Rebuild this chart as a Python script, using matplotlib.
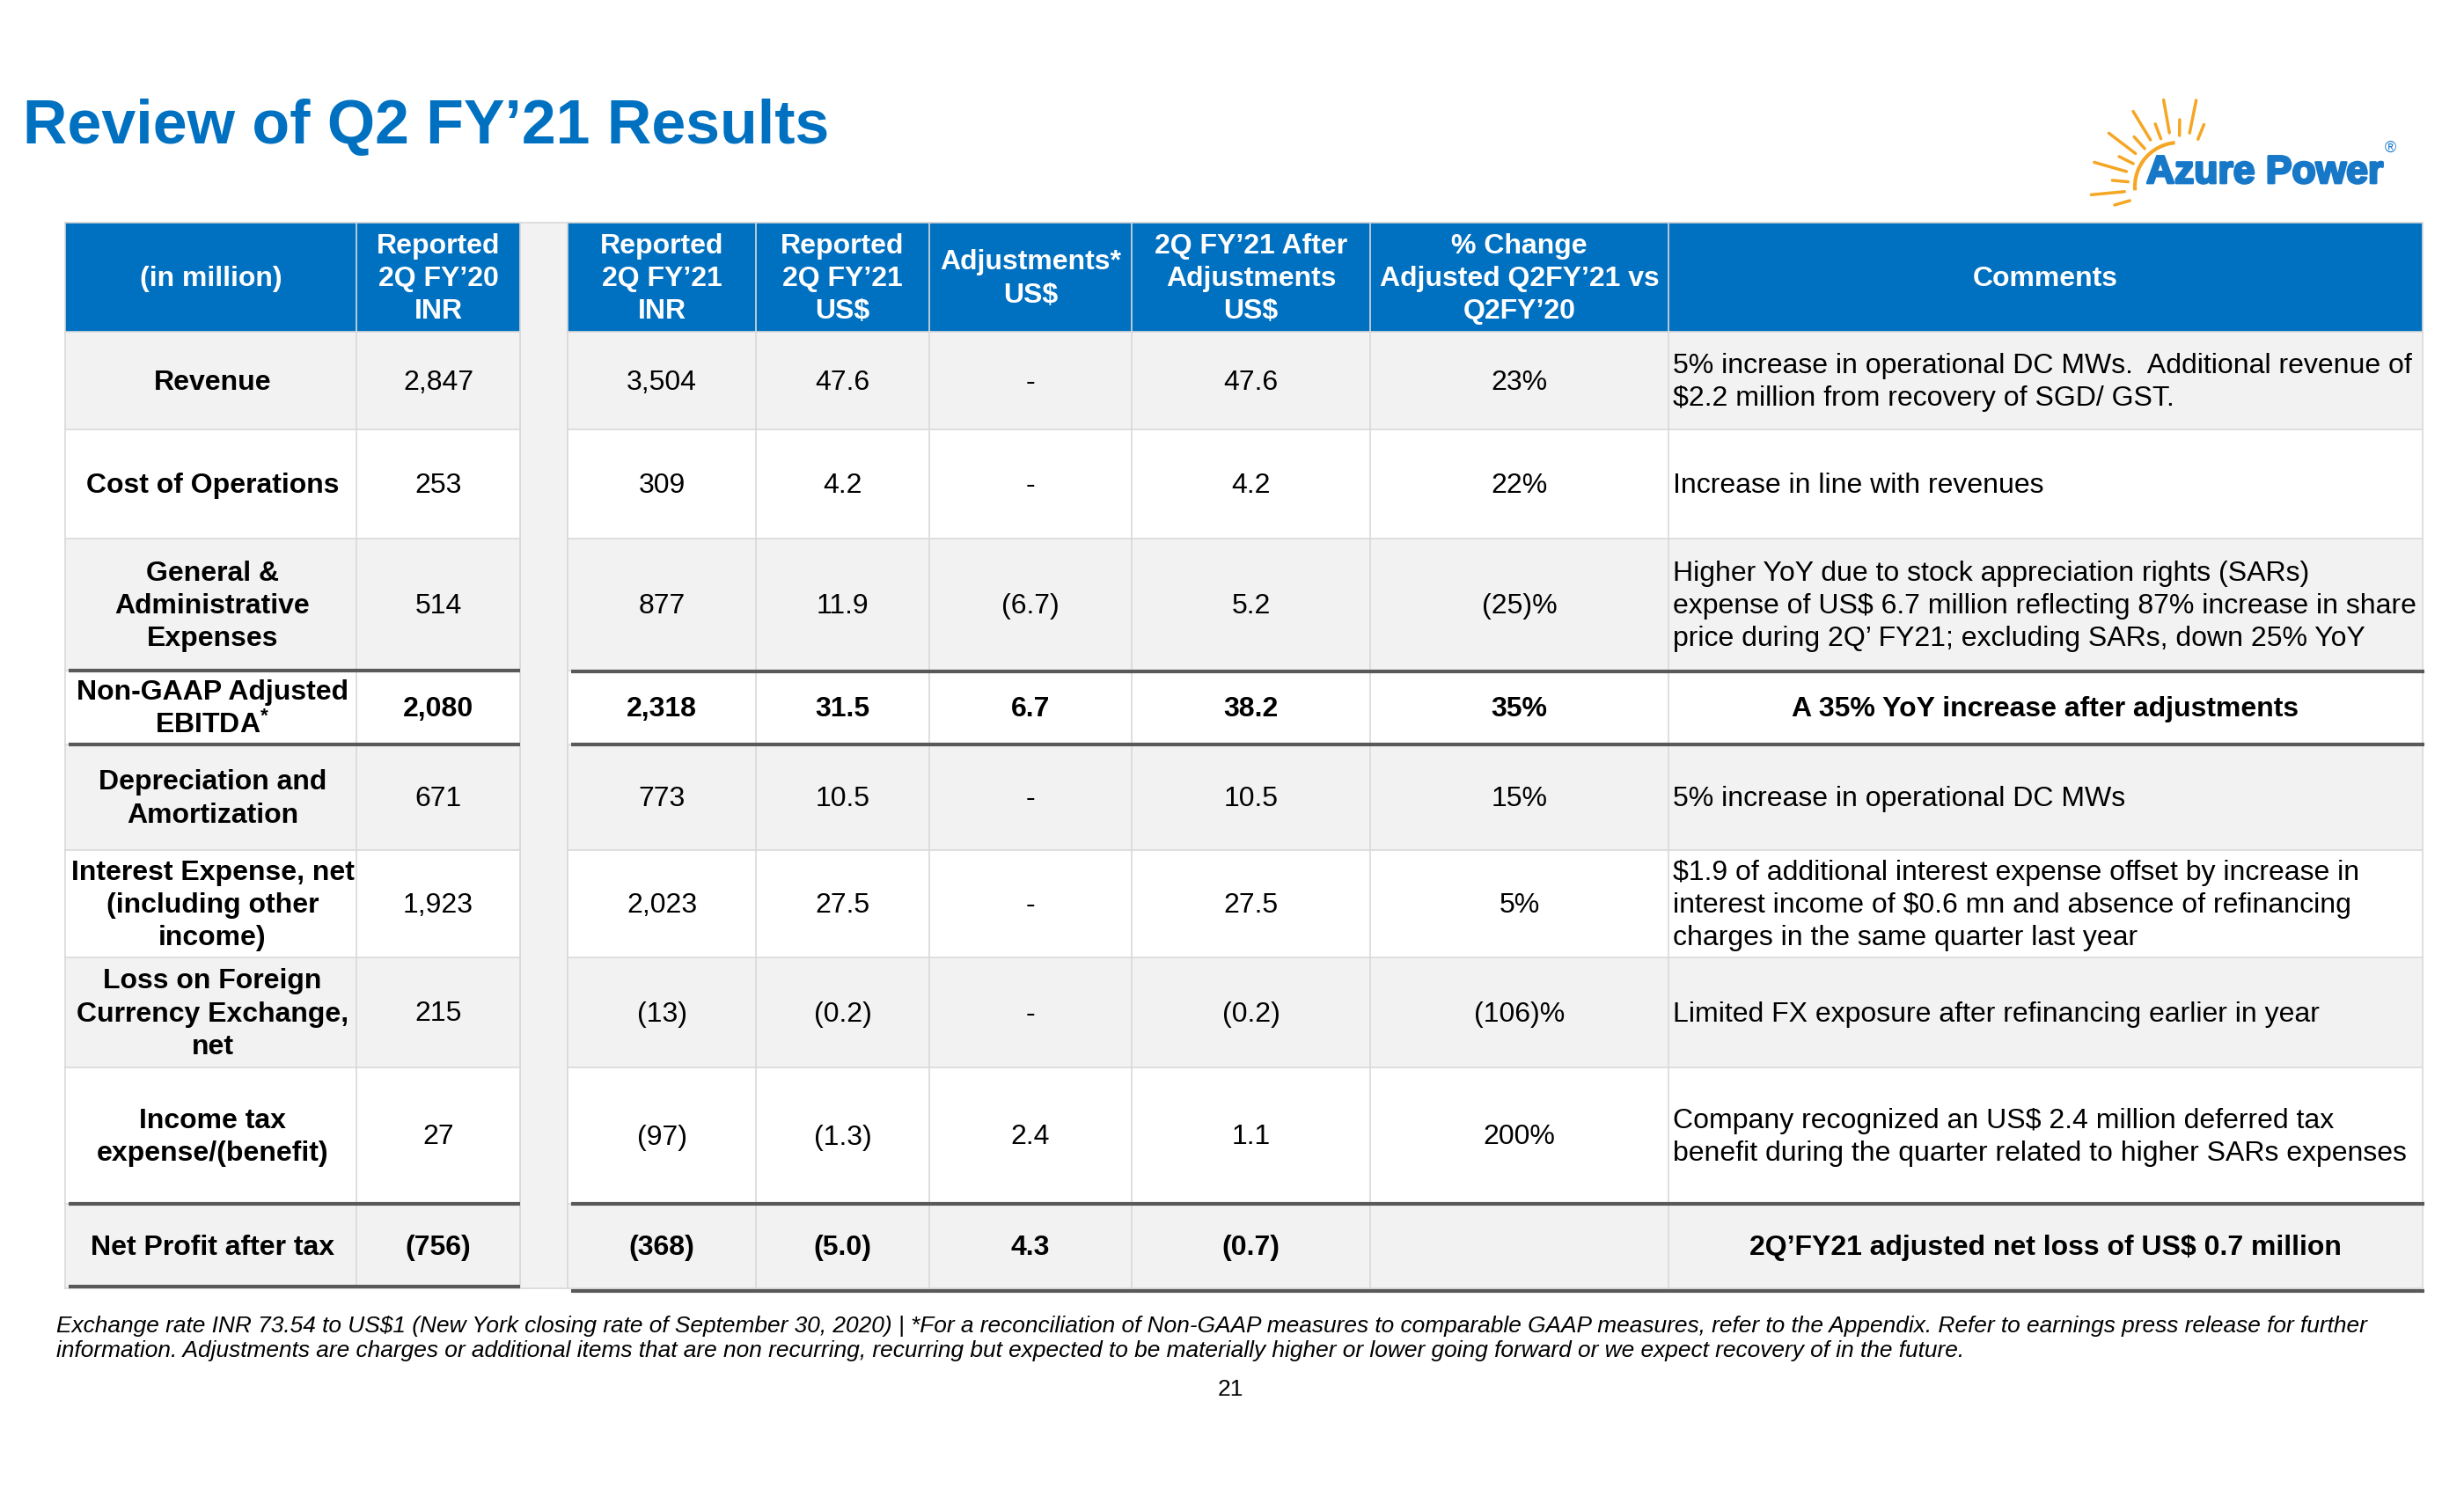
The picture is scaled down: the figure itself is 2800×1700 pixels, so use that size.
import numpy as np
import matplotlib.pyplot as plt
from matplotlib.patches import Rectangle, Arc
import matplotlib.patheffects as pe

plt.rcParams['font.family'] = ['Liberation Sans', 'DejaVu Sans']
plt.rcParams['mathtext.fontset'] = 'custom'
plt.rcParams['mathtext.rm'] = 'Liberation Sans:bold'
plt.rcParams['mathtext.it'] = 'Liberation Sans:bold'

# ---- data ----
headers = ["(in million)", "Reported\n2Q FY’20\nINR", "Reported\n2Q FY’21\nINR",
           "Reported\n2Q FY’21\nUS$", "Adjustments*\nUS$", "2Q FY’21 After\nAdjustments\nUS$",
           "% Change\nAdjusted Q2FY’21 vs\nQ2FY’20", "Comments"]
row_labels = ["Revenue", "Cost of Operations", "General &\nAdministrative\nExpenses",
              "Non-GAAP Adjusted\nEBITDA$^{*}$", "Depreciation and\nAmortization",
              "Interest Expense, net\n(including other\nincome)",
              "Loss on Foreign\nCurrency Exchange,\nnet", "Income tax\nexpense/(benefit)",
              "Net Profit after tax"]
fy20_inr = ["2,847", "253", "514", "2,080", "671", "1,923", "215", "27", "(756)"]
fy21_inr = ["3,504", "309", "877", "2,318", "773", "2,023", "(13)", "(97)", "(368)"]
fy21_usd = ["47.6", "4.2", "11.9", "31.5", "10.5", "27.5", "(0.2)", "(1.3)", "(5.0)"]
adjust_usd = ["-", "-", "(6.7)", "6.7", "-", "-", "-", "2.4", "4.3"]
after_adj = ["47.6", "4.2", "5.2", "38.2", "10.5", "27.5", "(0.2)", "1.1", "(0.7)"]
pct_change = ["23%", "22%", "(25)%", "35%", "15%", "5%", "(106)%", "200%", ""]
comments = [
    "5% increase in operational DC MWs.  Additional revenue of\n$2.2 million from recovery of SGD/ GST.",
    "Increase in line with revenues",
    "Higher YoY due to stock appreciation rights (SARs)\nexpense of US$ 6.7 million reflecting 87% increase in share\nprice during 2Q’ FY21; excluding SARs, down 25% YoY",
    "A 35% YoY increase after adjustments",
    "5% increase in operational DC MWs",
    "$1.9 of additional interest expense offset by increase in\ninterest income of $0.6 mn and absence of refinancing\ncharges in the same quarter last year",
    "Limited FX exposure after refinancing earlier in year",
    "Company recognized an US$ 2.4 million deferred tax\nbenefit during the quarter related to higher SARs expenses",
    "2Q’FY21 adjusted net loss of US$ 0.7 million",
]
bold_rows = [3, 8]
footnote = ("Exchange rate INR 73.54 to US$1 (New York closing rate of September 30, 2020) | *For a reconciliation "
            "of Non-GAAP measures to comparable GAAP measures, refer to the Appendix. Refer to earnings press release for further\n"
            "information. Adjustments are charges or additional items that are non recurring, recurring but expected "
            "to be materially higher or lower going forward or we expect recovery of in the future.")

# ---- layout (pixels) ----
col_x = [74, 405, 591, 645, 859, 1056, 1286, 1557, 1896, 2753]   # 591-645 is the spacer column
row_y = [253, 377, 488, 612, 762, 846, 966, 1088, 1213, 1368, 1464]
blue = "#0070C0"
gray_fill = "#F2F2F2"
grid_c = "#D9D9D9"
thick_c = "#595959"
fs = 23
ls = 1.31

fig = plt.figure(figsize=(28, 17), dpi=100)
ax = fig.add_axes([0, 0, 1, 1])
ax.set_xlim(0, 2800)
ax.set_ylim(1700, 0)
ax.axis('off')

# title
ax.text(26, 163, "Review of Q2 FY’21 Results", color=blue, fontsize=50.3, fontweight='bold',
        va='baseline', ha='left')

# logo
cx, cy = 2476, 212
sun = "#F5A623"
ax.add_patch(Arc((cx, cy), 100, 100, theta1=175, theta2=265, color=sun, lw=3))
angles = np.linspace(68, 196, 13)
for k, a in enumerate(angles):
    r0, r1 = (62, 100) if k % 2 == 1 else (58, 76)
    t = np.radians(a)
    ax.plot([cx + r0 * np.cos(t), cx + r1 * np.cos(t)],
            [cy - r0 * np.sin(t), cy - r1 * np.sin(t)], color=sun, lw=2.5, solid_capstyle='round')
ax.text(2439, 208, "Azure Power", color="#1878C8", fontsize=32, fontweight='bold', va='baseline',
        path_effects=[pe.withStroke(linewidth=2, foreground="#1878C8")])
ax.text(2716, 168, "®", color="#1878C8", fontsize=13, va='center', ha='center')

# cell backgrounds
sections = [(col_x[0], col_x[2]), (col_x[3], col_x[9])]
ax.add_patch(Rectangle((col_x[2], row_y[0]), col_x[3] - col_x[2], row_y[-1] - row_y[0],
                       facecolor=gray_fill, edgecolor=grid_c, lw=1.2))
for x0, x1 in sections:
    ax.add_patch(Rectangle((x0, row_y[0]), x1 - x0, row_y[1] - row_y[0], facecolor=blue, edgecolor='none'))
    for i in range(len(row_labels)):
        fc = gray_fill if i % 2 == 0 else "white"
        ax.add_patch(Rectangle((x0, row_y[i + 1]), x1 - x0, row_y[i + 2] - row_y[i + 1],
                               facecolor=fc, edgecolor='none'))
    for y in row_y:
        ax.plot([x0, x1], [y, y], color=grid_c, lw=1.2)
for x in col_x:
    ax.plot([x, x], [row_y[0], row_y[-1]], color=grid_c, lw=1.2)

# thick separators
for yl, yr in [(762, 763), (846, 846), (1368, 1368), (1462, 1467)]:
    ax.plot([col_x[0] + 4, col_x[2]], [yl, yl], color=thick_c, lw=3, solid_capstyle='butt')
    ax.plot([649, 2755], [yr, yr], color=thick_c, lw=3, solid_capstyle='butt')

# header text
hdr_cols = [0, 1, 3, 4, 5, 6, 7, 8]
hy = (row_y[0] + row_y[1]) / 2 + 2
for h, c in zip(headers, hdr_cols):
    ax.text((col_x[c] + col_x[c + 1]) / 2, hy, h, color='white', fontsize=fs, fontweight='bold',
            ha='center', va='center', linespacing=ls, parse_math=False)

# body text
value_cols = [fy20_inr, fy21_inr, fy21_usd, adjust_usd, after_adj, pct_change]
value_pos = [1, 3, 4, 5, 6, 7]
for i in range(len(row_labels)):
    yc = (row_y[i + 1] + row_y[i + 2]) / 2 + 2
    w = 'bold' if i in bold_rows else 'normal'
    ax.text((col_x[0] + col_x[1]) / 2 + 2, yc, row_labels[i], fontsize=fs, fontweight='bold',
            ha='center', va='center', linespacing=ls, color='black', parse_math=(i == 3))
    for vals, c in zip(value_cols, value_pos):
        ax.text((col_x[c] + col_x[c + 1]) / 2, yc, vals[i], fontsize=fs, fontweight=w,
                ha='center', va='center', color='black', parse_math=False)
    if i in bold_rows:
        ax.text((col_x[8] + col_x[9]) / 2, yc, comments[i], fontsize=fs, fontweight='bold',
                ha='center', va='center', color='black', parse_math=False)
    else:
        ax.text(col_x[8] + 5, yc, comments[i], fontsize=fs, ha='left', va='center',
                linespacing=ls, color='black', parse_math=False)

# footnote and page number
ax.text(64, 1495, footnote, fontsize=18.9, style='italic', ha='left', va='top',
        linespacing=1.2, color='black', parse_math=False)
ax.text(1398, 1579, "21", fontsize=19, ha='center', va='center', color='black')

fig.savefig("out.png", dpi=100, facecolor='white')
